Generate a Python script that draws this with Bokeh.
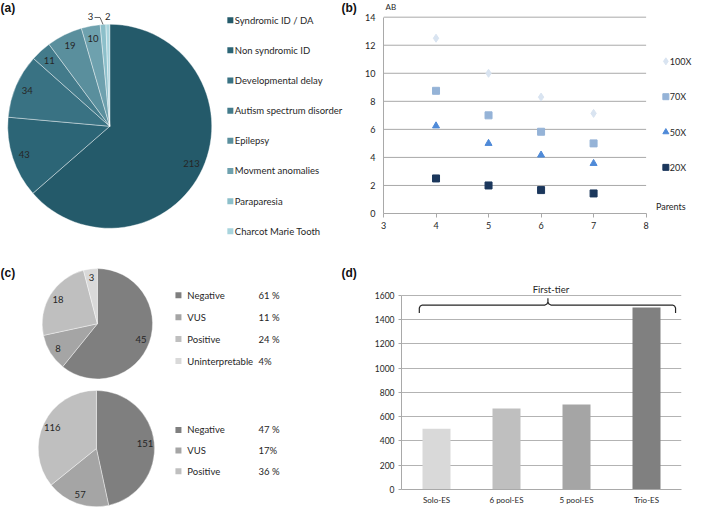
import numpy as np
from bokeh.plotting import figure
from bokeh.layouts import row, column
from bokeh.models import Range1d, FactorRange, ColumnDataSource, FixedTicker
from bokeh.core.properties import value
from bokeh.embed import file_html
from bokeh.resources import INLINE

FONT = "Lato"
BOLD_FONT = "Liberation Sans"
TXT = "#262626"

# ---------------- data ----------------
# (a)
a_labels = ["Syndromic ID / DA", "Non syndromic ID", "Developmental delay",
            "Autism spectrum disorder", "Epilepsy", "Movment anomalies",
            "Paraparesia", "Charcot Marie Tooth"]
a_values = [213, 43, 34, 11, 19, 10, 3, 2]
a_colors = ["#245a6a", "#2c6576", "#397283", "#437b8b", "#5a8f9d", "#6ea1ae", "#8cbfca", "#a8d4dd"]

# (b)
b_parents = [4, 5, 6, 7]
b_series = ["100X", "70X", "50X", "20X"]
b_100x = [12.5, 10.0, 8.3, 7.14]
b_70x = [8.75, 7.0, 5.83, 5.0]
b_50x = [6.25, 5.0, 4.17, 3.57]
b_20x = [2.5, 2.0, 1.67, 1.43]
b_xticks = [3, 4, 5, 6, 7, 8]
b_yticks = [0, 2, 4, 6, 8, 10, 12, 14]

# (c)
c1_labels = ["Negative", "VUS", "Positive", "Uninterpretable"]
c1_values = [45, 8, 18, 3]
c1_pct = ["61 %", "11 %", "24 %", "4%"]
c2_labels = ["Negative", "VUS", "Positive"]
c2_values = [151, 57, 116]
c2_pct = ["47 %", "17%", "36 %"]
c_colors = ["#7f7f7f", "#a5a5a5", "#bfbfbf", "#d9d9d9"]

# (d)
d_cats = ["Solo-ES", "6 pool-ES", "5 pool-ES", "Trio-ES"]
d_values = [500, 667, 700, 1500]
d_colors = ["#d9d9d9", "#bfbfbf", "#a5a5a5", "#808080"]
d_yticks = [0, 200, 400, 600, 800, 1000, 1200, 1400, 1600]

# ---------------- layout ----------------
W_L, W_R = 357, 336
H_T, H_B = 263, 244
SX = 693.0 / 701.0
SY = 507.0 / 516.0
SR = (SX + SY) / 2


def LX(v):
    return (v - 2) * SX


def LY(v):
    return (v - 2) * SY


def pix_fig(w, h):
    p = figure(width=w, height=h, x_range=Range1d(0, w), y_range=Range1d(0, h),
               x_axis_type=None, y_axis_type=None, output_backend="svg",
               toolbar_location=None, min_border=0, frame_align=False)
    p.outline_line_color = None
    return p


def txt(p, H, x, y, s, size, color=TXT, align="left", baseline="middle",
        font=FONT, style="normal"):
    p.text(x=[x], y=[H - y], text=[s], text_font=value(font),
           text_font_size=f"{size}px", text_color=color, text_align=align,
           text_baseline=baseline, text_font_style=style)


def pie(p, H, cx, cy, r, values, colors):
    vals = np.array(values, dtype=float)
    frac = np.cumsum(vals) / vals.sum()
    start = np.concatenate([[0.0], frac[:-1]])
    a0 = np.pi / 2 - 2 * np.pi * start
    a1 = np.pi / 2 - 2 * np.pi * frac
    src = ColumnDataSource(dict(s=a1, e=a0, c=list(colors[:len(values)])))
    p.wedge(x=cx, y=H - cy, radius=r, start_angle="s", end_angle="e",
            direction="anticlock", fill_color="c", line_color="white",
            line_width=0.5, line_alpha=0.8, source=src)
    return (a0 + a1) / 2, vals / vals.sum()


# ---------------- (a) ----------------
pa = pix_fig(W_L, H_T)
cx, cy, r = LX(112.5), LY(130), 103.5 * SR
mids, fr = pie(pa, H_T, cx, cy, r, a_values, a_colors)
small = [i for i in range(len(a_values)) if fr[i] < 0.02]
for i, (v, m) in enumerate(zip(a_values, mids)):
    if fr[i] >= 0.02:
        txt(pa, H_T, cx + 0.88 * r * np.cos(m), cy - 0.88 * r * np.sin(m), str(v), 9.5, align="center")
    else:
        lx = cx + (r + 8) * np.cos(m)
        ly = cy - (r + 8) * np.sin(m)
        ex = cx + r * np.cos(m)
        ey = cy - r * np.sin(m)
        if i != small[-1]:
            lx -= 12
            pa.line(x=[lx + 4, ex - 3, ex], y=[H_T - ly - 1, H_T - ly - 1, H_T - ey],
                    line_color="#404040", line_width=0.8)
        txt(pa, H_T, lx, ly, str(v), 9.5, align="center")

for i, lab in enumerate(a_labels):
    yy = LY(22 + 30.7 * i)
    pa.scatter(x=[LX(234.5)], y=[H_T - yy], marker="square", size=6,
               fill_color=a_colors[i], line_color=None)
    txt(pa, H_T, LX(239), yy, lab, 9.5)

txt(pa, H_T, 0, 0, "(a)", 12, color="#111111", baseline="top", font=BOLD_FONT, style="bold")
txt(pa, H_T, 341, 0, "(b)", 12, color="#111111", baseline="top", font=BOLD_FONT, style="bold")

# ---------------- (b) ----------------
B_L = LX(389) - W_L
B_X8 = LX(655) - W_L
B_Y14 = LY(19)
B_FB = LY(219)
b_pxu = (B_X8 - B_L) / 5.0
b_pyu = (B_FB - B_Y14) / 14.0
b_xend = 3 + (W_R - B_L) / b_pxu
b_yend = B_FB / b_pyu


def bx(ref_x):
    return 3 + (LX(ref_x) - W_L - B_L) / b_pxu


def by(ref_y):
    return b_yend - LY(ref_y) / b_pyu


pb = figure(width=W_R, height=H_T, x_range=Range1d(3, b_xend), y_range=Range1d(0, b_yend),
            output_backend="svg", toolbar_location=None, frame_align=False,
            min_border_left=int(round(B_L)), min_border_right=0, min_border_top=0,
            min_border_bottom=int(round(H_T - B_FB)))
pb.outline_line_color = None
pb.xgrid.visible = False
pb.ygrid.visible = False
grid_y = [t for t in b_yticks if t > 0]
pb.segment(x0=[3] * len(grid_y), x1=[8] * len(grid_y), y0=grid_y, y1=grid_y,
           line_color="#a9a9a9", line_width=1)

xa = pb.xaxis[0]
xa.bounds = (3, 8)
xa.ticker = FixedTicker(ticks=b_xticks)
ya = pb.yaxis[0]
ya.bounds = (0, 14)
ya.ticker = FixedTicker(ticks=b_yticks)
for ax in (xa, ya):
    ax.minor_tick_line_color = None
    ax.major_tick_in = 0
    ax.axis_line_color = "#a9a9a9"
    ax.major_tick_line_color = "#a9a9a9"
    ax.major_label_text_font = FONT
    ax.major_label_text_font_size = "9px"
    ax.major_label_text_color = TXT
xa.major_tick_out = 4
xa.major_label_standoff = 4
ya.major_tick_out = 0
ya.major_label_standoff = 8

b_styles = [("diamond", 8, "#d9e4f1"), ("square", 7, "#95b3d7"),
            ("triangle", 7, "#4f8ad8"), ("square", 7, "#1b375c")]
for vals, (mk, sz, col) in zip([b_100x, b_70x, b_50x, b_20x], b_styles):
    pb.scatter(x=b_parents, y=vals, marker=mk, size=sz, fill_color=col, line_color=col)

for i, (name, (mk, sz, col)) in enumerate(zip(b_series, b_styles)):
    yy = 64 + 36 * i
    pb.scatter(x=[bx(675)], y=[by(yy)], marker=mk, size=sz - 1, fill_color=col, line_color=col)
    pb.text(x=[bx(679)], y=[by(yy)], text=[name], text_font=value(FONT),
            text_font_size="9px", text_color=TXT, text_baseline="middle")

pb.text(x=[bx(391)], y=[by(4)], text=["AB"], text_font=value(FONT), text_font_size="8px",
        text_color=TXT, text_baseline="top")
pb.text(x=[bx(665)], y=[by(217)], text=["Parents"], text_font=value(FONT),
        text_font_size="9px", text_color=TXT, text_baseline="bottom")

# ---------------- (c) ----------------
pc = pix_fig(W_L, H_B)
OY = H_T
for (pcx, pcy, pr, vals, labs, pcts, ly0, dy) in [
        (100, 331, 56, c1_values, c1_labels, c1_pct, 302, 22.3),
        (99, 458, 59, c2_values, c2_labels, c2_pct, 439, 21.0)]:
    ccx, ccy, cr = LX(pcx), LY(pcy) - OY, pr * SR
    mids, fr = pie(pc, H_B, ccx, ccy, cr, vals, c_colors)
    for v, m in zip(vals, mids):
        txt(pc, H_B, ccx + 0.84 * cr * np.cos(m), ccy - 0.84 * cr * np.sin(m), str(v), 9.5, align="center")
    for i, (lab, pct) in enumerate(zip(labs, pcts)):
        yy = LY(ly0 + dy * i) - OY
        pc.scatter(x=[LX(182)], y=[H_B - yy], marker="square", size=6,
                   fill_color=c_colors[i], line_color=None)
        txt(pc, H_B, LX(191), yy, lab, 9.5)
        txt(pc, H_B, LX(263), yy, pct, 9.5)

txt(pc, H_B, 0, LY(272) - OY, "(c)", 12, color="#111111", baseline="top", font=BOLD_FONT, style="bold")
txt(pc, H_B, 341, LY(272) - OY, "(d)", 12, color="#111111", baseline="top", font=BOLD_FONT, style="bold")

# ---------------- (d) ----------------
D_L = LX(408) - W_L
D_R = LX(691) - W_L
D_T = LY(302) - OY
D_B = LY(500) - OY
D_FT = 16   # frame top (px) - room above the 1600 line for the brace label
d_pxu = (D_R - D_L) / 4.0
d_pyu = (D_B - D_T) / 1600.0
d_ytop = 1600 + (D_T - D_FT) / d_pyu


def dx(ref_x):
    return (LX(ref_x) - W_L - D_L) / d_pxu


def dy_(ref_y):
    return 1600 - (LY(ref_y) - OY - D_T) / d_pyu


pd = figure(width=W_R, height=H_B, x_range=FactorRange(*d_cats), y_range=Range1d(0, d_ytop),
            output_backend="svg", toolbar_location=None, frame_align=False,
            min_border_left=int(round(D_L)), min_border_right=int(round(W_R - D_R)),
            min_border_top=D_FT, min_border_bottom=int(round(H_B - D_B)))
pd.outline_line_color = None
pd.xgrid.visible = False
pd.ygrid.ticker = FixedTicker(ticks=d_yticks)
pd.ygrid.grid_line_color = "#b3b3b3"
pd.ygrid.grid_line_width = 1
pd.vbar(x=d_cats, top=d_values, width=0.4, fill_color=d_colors, line_color=None)

pd.yaxis.ticker = FixedTicker(ticks=d_yticks)
pd.yaxis.bounds = (0, 1600)
for ax in (pd.xaxis[0], pd.yaxis[0]):
    ax.minor_tick_line_color = None
    ax.major_tick_in = 0
    ax.axis_line_color = "#a9a9a9"
    ax.major_tick_line_color = "#a9a9a9"
    ax.major_label_text_font = FONT
    ax.major_label_text_color = TXT
pd.yaxis.major_tick_out = 3
pd.yaxis.major_label_text_font_size = "8.5px"
pd.yaxis.major_label_standoff = 4
pd.xaxis.major_tick_out = 0
pd.xaxis.major_label_text_font_size = "8px"
pd.xaxis.major_label_standoff = 5

# curly brace over the four bars (reference-pixel geometry)
bx0, bx1, bxc, byl, bdep = 426, 685, 556, 312, 8
brace_ref = [(bx0, byl + bdep), (bx0, byl + 3), (bx0 + 1, byl + 1), (bx0 + 3, byl),
             (bxc - 3, byl), (bxc - 1, byl - 1), (bxc, byl - 3), (bxc, byl - 7),
             (bxc, byl - 3), (bxc + 1, byl - 1), (bxc + 3, byl),
             (bx1 - 3, byl), (bx1 - 1, byl + 1), (bx1, byl + 3), (bx1, byl + bdep)]
pd.line(x=[dx(p[0]) for p in brace_ref], y=[dy_(p[1]) for p in brace_ref],
        line_color="#262626", line_width=1.2)
pd.text(x=[dx(559)], y=[dy_(296)], text=["First-tier"], text_font=value(FONT),
        text_font_size="9.5px", text_color=TXT, text_align="center", text_baseline="middle")

layout = column(row(pa, pb), row(pc, pd))
open("out.html", "w").write(file_html(layout, INLINE))
